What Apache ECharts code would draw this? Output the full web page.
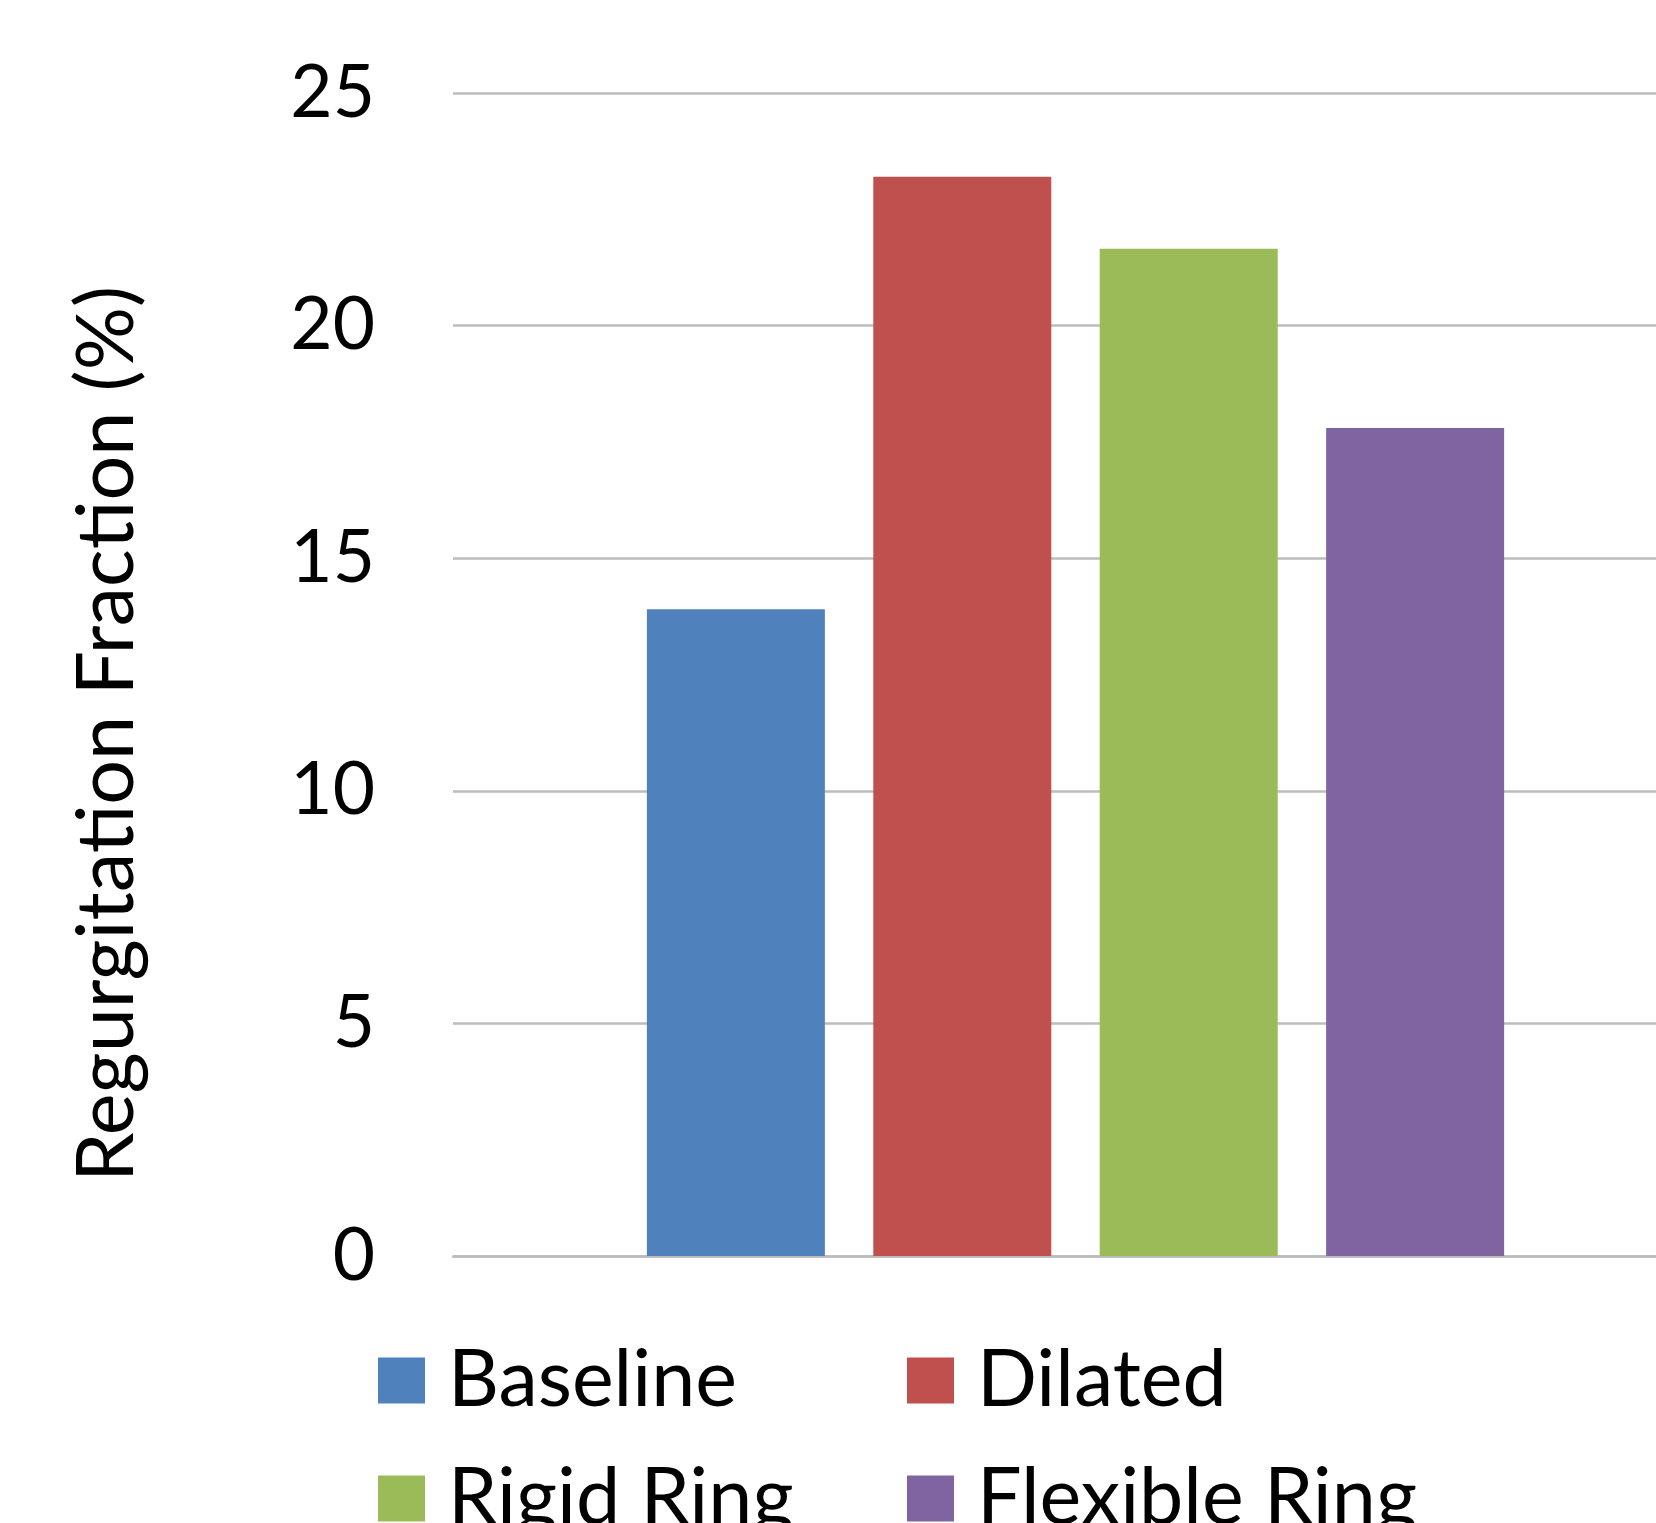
<!DOCTYPE html>
<html>
<head>
<meta charset="utf-8">
<script src="https://cdn.jsdelivr.net/npm/echarts@6/dist/echarts.min.js"></script>
<style>
html,body{margin:0;padding:0;background:#fff;}
#chart{width:1656px;height:1523px;}
</style>
</head>
<body>
<div id="chart"></div>
<script>
const categories = ['Regurgitation'];
const seriesNames = ['Baseline', 'Dilated', 'Rigid Ring', 'Flexible Ring'];
const seriesValues = [13.9, 23.2, 21.65, 17.8];
const seriesColors = ['#4F81BD', '#C0504D', '#9BBB59', '#8064A2'];
const yTicks = [0, 5, 10, 15, 20, 25];
const yTitle = 'Regurgitation Fraction (%)';

const FONT = 'Lato';
const chart = echarts.init(document.getElementById('chart'), null, {renderer: 'canvas'});

const series = seriesNames.map((name, i) => ({
  name: name,
  type: 'bar',
  xAxisIndex: 1,
  yAxisIndex: 1,
  data: [seriesValues[i]],
  barWidth: 178,
  barGap: '27.2%',
  itemStyle: {color: seriesColors[i]},
  emphasis: {disabled: true},
  z: 3
}));

const legendText = {
  fontFamily: FONT, fontSize: 79, color: '#000', lineHeight: 46,
  padding: [0, 0, 0, 18]
};

const yMin = yTicks[0], yMax = yTicks[yTicks.length - 1];

chart.setOption({
  animation: false,
  backgroundColor: '#ffffff',
  grid: [
    {left: 453, right: 0, top: 93, bottom: 267, containLabel: false},
    {left: 495, right: 0, top: 93, bottom: 267, containLabel: false}
  ],
  xAxis: [
    {
      gridIndex: 0,
      type: 'category',
      data: categories,
      axisLine: {show: true, lineStyle: {color: '#bcbcbc', width: 2.5}},
      axisTick: {show: false},
      axisLabel: {show: false},
      z: 1
    },
    {
      gridIndex: 1,
      type: 'category',
      data: categories,
      show: false
    }
  ],
  yAxis: [
    {
      gridIndex: 0,
      type: 'value',
      min: yMin, max: yMax, interval: 5,
      axisLine: {show: false},
      axisTick: {show: false},
      splitLine: {lineStyle: {color: '#bcbcbc', width: 2.5}},
      axisLabel: {
        margin: 78,
        fontFamily: FONT, fontSize: 73, color: '#000'
      }
    },
    {
      gridIndex: 1,
      type: 'value',
      min: yMin, max: yMax, interval: 5,
      show: false,
      splitLine: {show: false}
    }
  ],
  legend: [
    {
      data: [seriesNames[0], seriesNames[2]],
      orient: 'vertical', left: 378, top: 1341, height: 400, width: 500,
      padding: 0,
      itemWidth: 47, itemHeight: 46, itemGap: 39,
      icon: 'rect', selectedMode: false,
      textStyle: legendText
    },
    {
      data: [seriesNames[1], seriesNames[3]],
      orient: 'vertical', left: 907, top: 1341, height: 400, width: 700,
      padding: 0,
      itemWidth: 47, itemHeight: 46, itemGap: 39,
      icon: 'rect', selectedMode: false,
      textStyle: legendText
    }
  ],
  graphic: [{
    type: 'text',
    x: 108, y: 734,
    rotation: Math.PI / 2,
    style: {
      text: yTitle,
      fontFamily: FONT, fontSize: 79, fill: '#000',
      align: 'center', verticalAlign: 'middle'
    }
  }],
  series: series
});
</script>
</body>
</html>
